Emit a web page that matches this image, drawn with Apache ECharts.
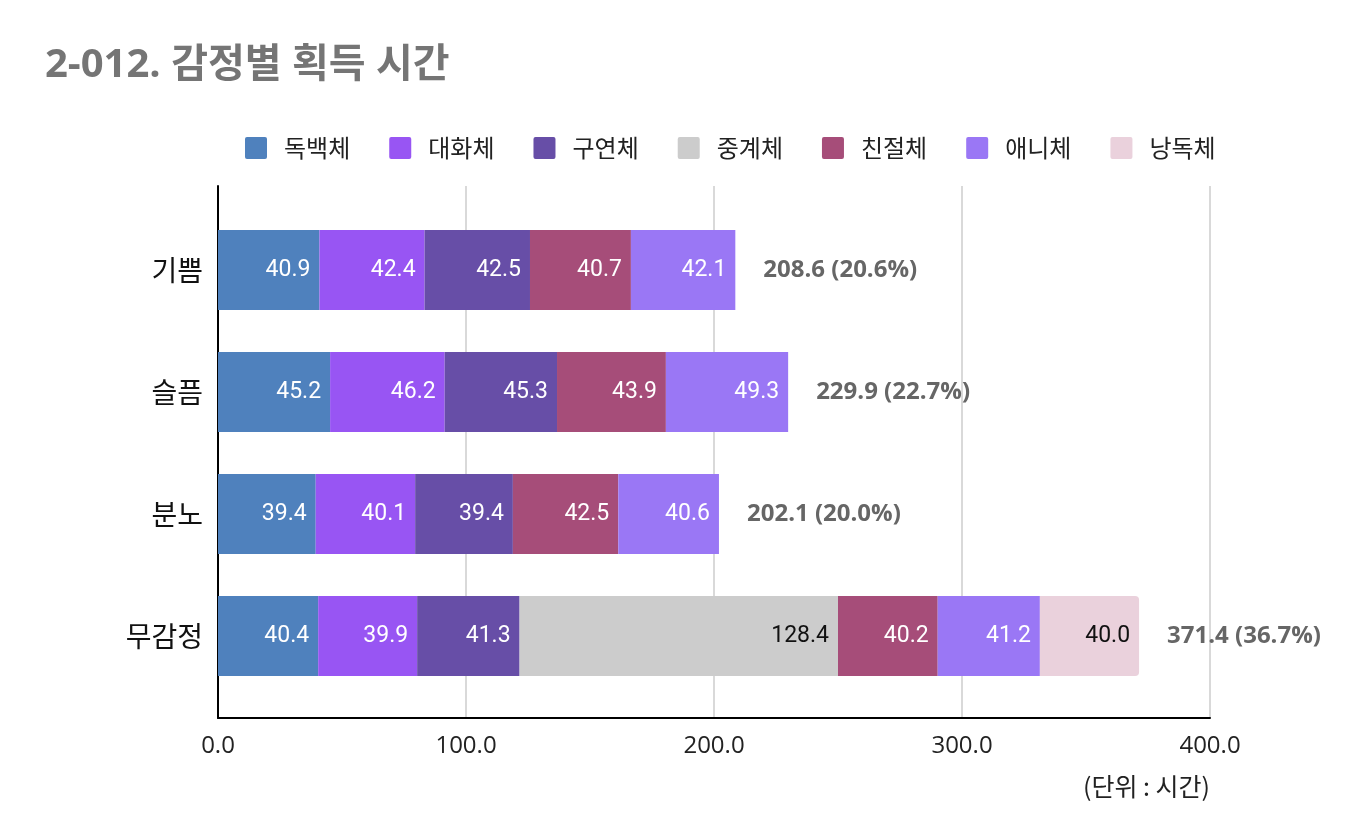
<!DOCTYPE html>
<html>
<head>
<meta charset="utf-8">
<script src="https://cdn.jsdelivr.net/npm/echarts@6/dist/echarts.min.js"></script>
<style>html,body{margin:0;padding:0;background:#fff;}#c{width:1368px;height:840px;}</style>
</head>
<body>
<div id="c"></div>
<script>
const categories = ['기쁨', '슬픔', '분노', '무감정'];
const seriesNames = ['독백체', '대화체', '구연체', '중계체', '친절체', '애니체', '낭독체'];
const dokbaek = [40.9, 45.2, 39.4, 40.4];
const daehwa = [42.4, 46.2, 40.1, 39.9];
const guyeon = [42.5, 45.3, 39.4, 41.3];
const junggye = [0, 0, 0, 128.4];
const chinjeol = [40.7, 43.9, 42.5, 40.2];
const aeni = [42.1, 49.3, 40.6, 41.2];
const nangdok = [0, 0, 0, 40.0];
const totals = [208.6, 229.9, 202.1, 371.4];
const percents = [20.6, 22.7, 20.0, 36.7];
const xTicks = [0, 100, 200, 300, 400];

const colors = ['#4f81bd', '#9855f3', '#674ea7', '#cccccc', '#a64d79', '#9a77f5', '#ead1dc'];
const labelColors = ['#fff', '#fff', '#fff', '#111', '#fff', '#fff', '#111'];
const dataSets = [dokbaek, daehwa, guyeon, junggye, chinjeol, aeni, nangdok];
const numFont = 'Roboto, "Noto Sans CJK KR", sans-serif';
const latinFont = '"Open Sans", "Noto Sans CJK KR", sans-serif';
const krFont = '"Noto Sans CJK KR", sans-serif';

const series = dataSets.map((d, i) => ({
  name: seriesNames[i],
  type: 'bar',
  stack: 'total',
  barWidth: 80,
  xAxisIndex: 0,
  yAxisIndex: 0,
  data: d,
  itemStyle: { color: colors[i], borderRadius: i === 6 ? [0, 4, 4, 0] : 0 },
  label: {
    show: true,
    position: 'insideRight',
    distance: 9,
    color: labelColors[i],
    fontSize: 23,
    fontFamily: numFont,
    formatter: p => p.value > 0 ? p.value.toFixed(1) : ''
  },
  emphasis: { disabled: true }
}));
series.push({
  name: '합계',
  type: 'bar',
  stack: 'total',
  barWidth: 80,
  xAxisIndex: 0,
  yAxisIndex: 0,
  data: categories.map(() => 0),
  itemStyle: { color: 'transparent' },
  label: {
    show: true,
    position: 'right',
    distance: 28,
    color: '#666',
    fontWeight: 'bold',
    fontSize: 24,
    fontFamily: latinFont,
    formatter: p => totals[p.dataIndex].toFixed(1) + ' (' + percents[p.dataIndex].toFixed(1) + '%)'
  },
  emphasis: { disabled: true }
});

const chart = echarts.init(document.getElementById('c'));
chart.setOption({
  animation: false,
  title: {
    text: '2-012. 감정별 획득 시간',
    left: 40, top: 41,
    textStyle: { fontSize: 40, fontWeight: 'bold', color: '#757575', fontFamily: latinFont }
  },
  legend: {
    data: seriesNames,
    top: 131,
    left: 240,
    itemWidth: 22,
    itemHeight: 22,
    itemGap: 39,
    icon: 'path://M2,0 L20,0 Q22,0 22,2 L22,20 Q22,22 20,22 L2,22 Q0,22 0,20 L0,2 Q0,0 2,0 Z',
    textStyle: { fontSize: 24, color: '#222', fontFamily: krFont, padding: [0, 0, 0, 12] }
  },
  graphic: [{
    type: 'text',
    right: 158, top: 774,
    style: { text: '(단위 : 시간)', fontSize: 25, fill: '#222', fontFamily: krFont, textAlign: 'right' }
  }],
  grid: [
    { left: 218, right: 158, top: 209, bottom: 143, containLabel: false },
    { left: 218, right: 158, top: 186, bottom: 122, containLabel: false }
  ],
  xAxis: [{
    gridIndex: 0,
    type: 'value',
    min: xTicks[0], max: xTicks[xTicks.length - 1], interval: 100,
    show: false
  }, {
    gridIndex: 1,
    type: 'value',
    min: xTicks[0], max: xTicks[xTicks.length - 1], interval: 100,
    axisLine: { show: true, lineStyle: { color: '#000', width: 2 } },
    axisTick: { show: false },
    splitLine: { lineStyle: { color: '#ccc', width: 1.5 } },
    axisLabel: { fontSize: 24, color: '#222', margin: 16, fontFamily: latinFont, formatter: v => v.toFixed(1) }
  }],
  yAxis: [{
    gridIndex: 0,
    type: 'category',
    data: categories,
    inverse: true,
    axisLine: { show: false },
    axisTick: { show: false },
    axisLabel: { fontSize: 28, color: '#111', margin: 15, fontFamily: krFont }
  }, {
    gridIndex: 1,
    type: 'value',
    min: 0, max: 1,
    axisLine: { show: true, lineStyle: { color: '#000', width: 2 } },
    axisTick: { show: false },
    axisLabel: { show: false },
    splitLine: { show: false }
  }],
  series: series
});
</script>
</body>
</html>
